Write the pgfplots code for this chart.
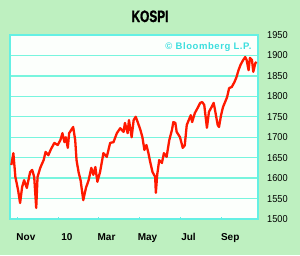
\documentclass[border=0pt]{standalone}
\usepackage{fontspec}
\setmainfont{Liberation Sans}
\newfontfamily\condfont[FakeStretch=0.72,FakeBold=1.2]{Liberation Sans}
\newfontfamily\narrowfont[FakeStretch=0.92]{Liberation Sans}
\newfontfamily\copyfont[LetterSpace=6]{Liberation Sans}
\usepackage{pgfplots}
\pgfplotsset{compat=1.18}
\definecolor{bggreen}{RGB}{190,240,192}
\definecolor{gridc}{RGB}{120,245,222}
\definecolor{borderc}{RGB}{100,240,228}
\definecolor{copyc}{RGB}{60,222,222}
\definecolor{linered}{RGB}{255,25,0}
\definecolor{plotbg}{RGB}{252,255,252}
\begin{document}
\begin{tikzpicture}
\fill[bggreen] (0,0) rectangle (300pt,255pt);
\node[anchor=base, font=\condfont\bfseries\fontsize{16.5}{18}\selectfont] at (150pt,233pt) {KOSPI};
\begin{axis}[
  at={(10pt,36pt)}, anchor=south west,
  scale only axis, width=248pt, height=184pt,
  xmin=-11, xmax=358, ymin=1500, ymax=1950,
  axis background/.style={fill=plotbg},
  axis line style={borderc, line width=1.3pt},
  ytick={1500,1550,...,1950},
  ymajorgrids, grid style={gridc, line width=1.3pt},
  yticklabel pos=right,
  y tick style={draw=none},
  yticklabel style={anchor=west, inner sep=0pt, xshift=9pt, font=\narrowfont\fontsize{10}{12}\selectfont},
  /pgf/number format/1000 sep={},
  /pgf/number format/assume math mode=true,
  xtick={0,61,120,181,242,304},
  xticklabels={Nov,10,Mar,May,Jul,Sep},
  x tick style={borderc, line width=1pt},
  major tick length=2pt,
  tick align=inside,
  xtick pos=bottom,
  xticklabel style={anchor=base, inner sep=0pt, xshift=8.5pt, yshift=-21pt, font=\bfseries\fontsize{10}{12}\selectfont},
  clip=false,
]
\addplot[linered, line width=2.3pt, line join=round, mark=none] coordinates {
(-9,1632) (-6,1661) (-3,1603) (1,1571) (4,1539) (7,1578) (10,1595) (14,1576)
(19,1615) (22,1620) (25,1603) (28,1527) (30,1603) (34,1625) (39,1644) (42,1664)
(46,1656) (50,1671) (55,1686) (60,1681) (64,1693) (67,1710) (70,1688) (72,1700)
(75,1674) (77,1710) (83,1725) (86,1693) (88,1644) (91,1615) (94,1595) (98,1546)
(102,1576) (106,1595) (110,1625) (113,1608) (116,1627) (119,1591) (123,1615)
(128,1661) (133,1652) (138,1686) (143,1688) (148,1710) (153,1722) (158,1713)
(160,1735) (164,1710) (166,1742) (170,1700) (173,1742) (176,1750) (179,1737)
(183,1718) (186,1700) (189,1669) (192,1681) (195,1661) (197,1644) (201,1615)
(205,1603) (206,1564) (208,1608) (211,1644) (215,1637) (218,1661) (222,1652)
(226,1693) (230,1718) (232,1737) (235,1735) (237,1713) (242,1700) (246,1674)
(249,1680) (252,1730) (255,1742) (258,1754) (260,1737) (264,1759) (268,1771)
(272,1784) (275,1786) (278,1779) (282,1723) (285,1762) (289,1774) (292,1784)
(294,1767) (298,1730) (300,1725) (303,1754) (306,1774) (309,1786) (312,1798)
(315,1820) (319,1823) (323,1835) (326,1847) (329,1864) (332,1877) (336,1889)
(339,1896) (341,1889) (344,1864) (346,1894) (349,1889) (351,1860) (354,1881)
(356,1884)
};
\end{axis}
\node[anchor=base east, text=copyc, font=\copyfont\bfseries\fontsize{9.5}{11}\selectfont] at (255pt,205pt) {\copyright{} Bloomberg L.P.};
\end{tikzpicture}
\end{document}
